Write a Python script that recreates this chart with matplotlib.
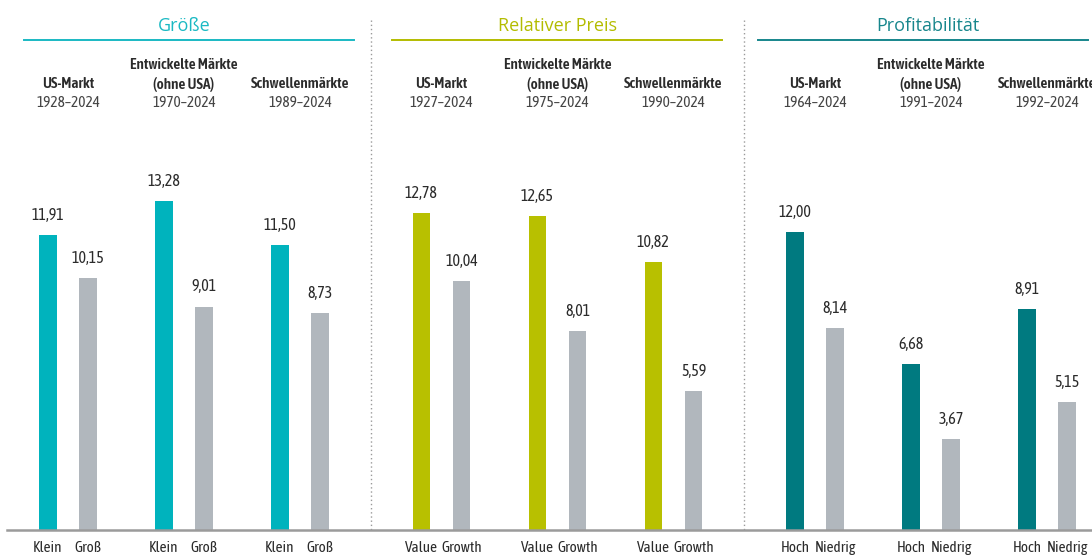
import matplotlib.pyplot as plt
from matplotlib.transforms import blended_transform_factory

# Condensed look for all text; fall back if a family is missing
plt.rcParams['font.family'] = ['Asap Condensed', 'Roboto', 'DejaVu Sans']

panel_titles = ['Größe', 'Relativer Preis', 'Profitabilität']
market_names = [['US-Markt'], ['Entwickelte Märkte', '(ohne USA)'], ['Schwellenmärkte']]
periods = [['1928–2024', '1970–2024', '1989–2024'],
           ['1927–2024', '1975–2024', '1990–2024'],
           ['1964–2024', '1991–2024', '1992–2024']]
bar_labels = [['Klein', 'Groß'], ['Value', 'Growth'], ['Hoch', 'Niedrig']]

# annualised returns in %, first bar of each pair = premium side
premium = [[11.91, 13.28, 11.50],
           [12.78, 12.65, 10.82],
           [12.00, 6.68, 8.91]]
other = [[10.15, 9.01, 8.73],
         [10.04, 8.01, 5.59],
         [8.14, 3.67, 5.15]]

title_colors = ['#1ab9c3', '#b3bc00', '#17868c']
bar_colors = ['#00b3bd', '#b8c000', '#007a80']
gray = '#b1b7bd'
text_col = '#2b2b2b'

W, H = 1092, 555
fig = plt.figure(figsize=(W / 100, H / 100), dpi=100)
ax = fig.add_axes([0, 0, 1, 1])
ax.set_xlim(0, W)
px_per_unit = 24.8
base_px = 25
ax.set_ylim(-base_px / px_per_unit, (H - base_px) / px_per_unit)
ax.axis('off')

tr = blended_transform_factory(ax.transData, ax.transAxes)


def fy(py):
    # pixel row from top -> axes fraction
    return 1 - py / H


panel_x0 = 48
panel_step = 373.5
group_step = 116
pair_gap = 40
bw = 17.5
fs = 11

title_x = [184, 557, 928]
rule_x = [189, 557, 923]

for p in range(3):
    ax.text(title_x[p], fy(26), panel_titles[p], transform=tr, ha='center', va='center',
            fontsize=13, color=title_colors[p], family=['Open Sans', 'DejaVu Sans'])
    ax.plot([rule_x[p] - 165, rule_x[p] + 165], [fy(40), fy(40)], transform=tr,
            color=title_colors[p], lw=1.4, clip_on=False)
    for g in range(3):
        x0 = panel_x0 + p * panel_step + g * group_step
        xs = [x0, x0 + pair_gap]
        gx = x0 + pair_gap / 2
        vals = [premium[p][g], other[p][g]]
        ax.bar(xs, vals, width=bw, color=[bar_colors[p], gray], zorder=2)
        for i, (x, v) in enumerate(zip(xs, vals)):
            ax.annotate(f'{v:.2f}'.replace('.', ','), (x, v), xytext=(0, 8),
                        textcoords='offset points', ha='center', va='bottom',
                        fontsize=11.5, color=text_col)
            ax.text(x, fy(548), bar_labels[p][i], transform=tr, ha='center', va='center',
                    fontsize=fs, color=text_col)
        name = market_names[g]
        rows = [84] if len(name) == 1 else [65, 84]
        for r, line in zip(rows, name):
            ax.text(gx, fy(r), line, transform=tr, ha='center', va='center',
                    fontsize=fs, fontweight='semibold', color=text_col)
        ax.text(gx, fy(103), periods[p][g], transform=tr, ha='center', va='center',
                fontsize=fs, color='#444444')

# dotted separators between panels
for sx in [371, 744]:
    ax.plot([sx, sx], [fy(20), fy(530)], transform=tr, color='#9a9a9a', lw=1,
            ls=(0, (1, 2)), zorder=1)

# baseline
ax.axhline(0, xmin=7 / W, xmax=1, color='#9b9b9b', lw=1.8, zorder=3)

fig.savefig('out.png', dpi=100)
